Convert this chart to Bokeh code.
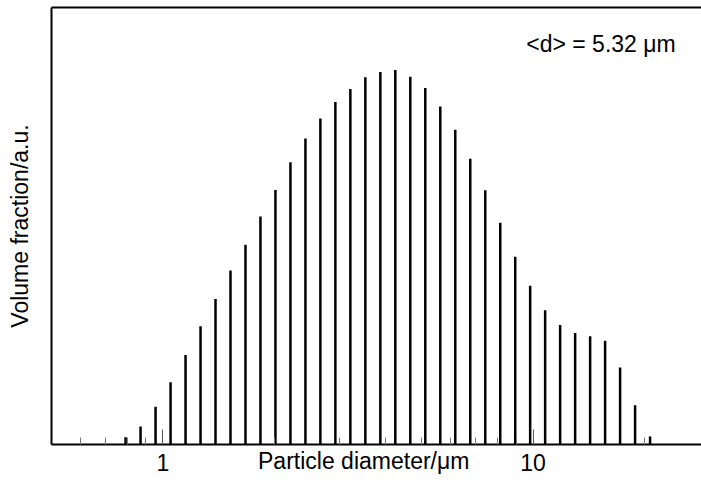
from bokeh.plotting import figure
from bokeh.models import FixedTicker, PrintfTickFormatter, LinearAxis, Label
from bokeh.embed import file_html
from bokeh.resources import INLINE

# Size classes (particle diameter in micrometres) and their volume fractions
diameter_um = [0.7925, 0.8700, 0.9552, 1.0486, 1.1510, 1.2634, 1.3868, 1.5222,
               1.6711, 1.8340, 2.0134, 2.2102, 2.4263, 2.6625, 2.9227, 3.2085,
               3.5221, 3.8664, 4.2433, 4.6580, 5.1134, 5.6134, 6.1617, 6.7640,
               7.4254, 8.1511, 8.9472, 9.8175, 10.777, 11.830, 12.987, 14.256,
               15.647, 17.177, 18.856, 20.699]
volume_fraction = [0.18, 0.45, 0.94, 1.55, 2.23, 2.95, 3.63, 4.34,
                   4.98, 5.69, 6.35, 7.04, 7.63, 8.13, 8.54, 8.87,
                   9.16, 9.29, 9.34, 9.17, 8.89, 8.43, 7.85, 7.13,
                   6.34, 5.53, 4.68, 3.96, 3.35, 2.98, 2.78, 2.70,
                   2.59, 1.92, 0.98, 0.20]

major_ticks = [1, 10]
minor_ticks = [0.6, 0.7, 0.8, 0.9, 2, 3, 4, 5, 6, 7, 8, 9, 20]
x_title = "Particle diameter/\u03bcm"
y_title = "Volume fraction/a.u."
mean_label = "<d> = 5.32 \u03bcm"

FONT = "Liberation Sans"
FS = "23px"

p = figure(width=701, height=482, x_axis_type="log",
           x_range=(0.5, 28.5), y_range=(0, 10.9),
           output_backend="svg", toolbar_location=None,
           min_border_left=51, min_border_right=0,
           min_border_top=7, min_border_bottom=38)
p.outline_line_color = None
p.grid.visible = False
p.background_fill_color = "white"
p.border_fill_color = "white"

# bottom axis: log scale with inward ticks; title shares the tick-label line
xa = p.xaxis[0]
xa.ticker = FixedTicker(ticks=major_ticks, minor_ticks=minor_ticks)
xa.formatter = PrintfTickFormatter(format="%d")
xa.axis_line_width = 2
xa.axis_line_color = "black"
xa.major_tick_in = 15
xa.major_tick_out = 0
xa.minor_tick_in = 7
xa.minor_tick_out = 0
xa.major_tick_line_color = "#555555"
xa.major_tick_line_width = 1
xa.minor_tick_line_color = "#777777"
xa.minor_tick_line_width = 1
xa.major_label_text_font = FONT
xa.major_label_text_font_size = FS
xa.major_label_text_color = "black"
xa.major_label_standoff = 9
xa.axis_label = x_title + "\u00a0" * 4
xa.axis_label_text_font = FONT
xa.axis_label_text_font_size = FS
xa.axis_label_text_font_style = "normal"
xa.axis_label_text_color = "black"
xa.axis_label_standoff = -26

# left axis: line and title only
ya = p.yaxis[0]
ya.ticker = FixedTicker(ticks=[])
ya.axis_line_width = 2
ya.axis_line_color = "black"
ya.major_tick_line_color = None
ya.minor_tick_line_color = None
ya.major_label_standoff = 0
ya.axis_label = y_title
ya.axis_label_text_font = FONT
ya.axis_label_text_font_size = FS
ya.axis_label_text_font_style = "normal"
ya.axis_label_text_color = "black"
ya.axis_label_standoff = 19

# top frame line
top = LinearAxis(ticker=FixedTicker(ticks=[]),
                 axis_line_width=2, axis_line_color="black",
                 major_tick_line_color=None, minor_tick_line_color=None,
                 major_label_standoff=0)
p.add_layout(top, "above")

# distribution bars
p.segment(x0=diameter_um, y0=[0] * len(diameter_um),
          x1=diameter_um, y1=volume_fraction,
          line_color="black", line_width=2.5, line_cap="butt")

# mean diameter note
p.add_layout(Label(x=24.27, y=9.99, text=mean_label,
                   text_font=FONT, text_font_size=FS, text_color="black",
                   text_align="right", text_baseline="alphabetic"))

open("out.html", "w").write(file_html(p, INLINE))
